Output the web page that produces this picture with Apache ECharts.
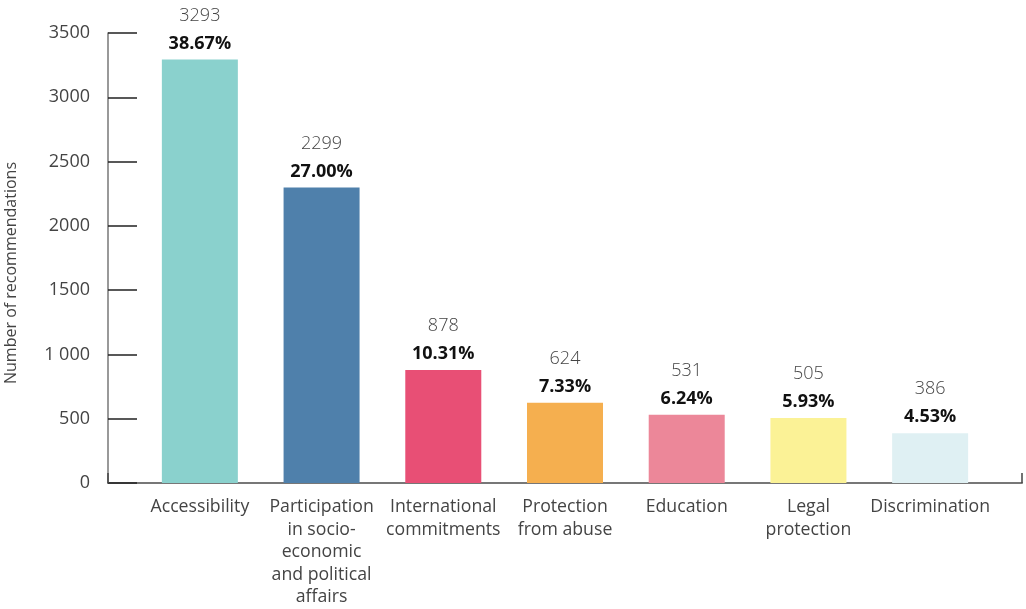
<!DOCTYPE html>
<html>
<head>
<meta charset="utf-8">
<script src="https://cdn.jsdelivr.net/npm/echarts@6/dist/echarts.min.js"></script>
<style>
  html, body { margin: 0; padding: 0; background: #fff; }
  #chart { width: 1026px; height: 609px; }
</style>
</head>
<body>
<div id="chart"></div>
<script>
// Recommendations by theme
const categories = [
  'Accessibility',
  'Participation\nin socio-\neconomic\nand political\naffairs',
  'International\ncommitments',
  'Protection\nfrom abuse',
  'Education',
  'Legal\nprotection',
  'Discrimination'
];
const counts = [3293, 2299, 878, 624, 531, 505, 386];
const shares = ['38.67%', '27.00%', '10.31%', '7.33%', '6.24%', '5.93%', '4.53%'];
const barColors = ['#8AD1CD', '#4F80AB', '#E84F75', '#F5AF4F', '#EC8799', '#FBF296', '#DFF0F3'];
const yTicks = [0, 500, 1000, 1500, 2000, 2500, 3000, 3500];

const FONT = '"Open Sans", "Noto Sans", sans-serif';

const chart = echarts.init(document.getElementById('chart'), null, { renderer: 'canvas' });

chart.setOption({
  animation: false,
  textStyle: { fontFamily: FONT },
  grid: [
    { left: 139, right: 35, top: 33, bottom: 126, outerBoundsMode: 'none', containLabel: false },
    { left: 108, right: 4, top: 33, bottom: 126, outerBoundsMode: 'none', containLabel: false }
  ],
  xAxis: [
    {
      type: 'category',
      gridIndex: 0,
      data: categories,
      axisLine: { show: false },
      axisTick: { show: false },
      axisLabel: {
        interval: 0,
        margin: 13,
        color: '#444',
        fontSize: 17.7,
        lineHeight: 22.5,
        fontFamily: FONT,
        align: 'center'
      }
    },
    {
      // full-width baseline with an end tick
      type: 'value',
      gridIndex: 1,
      min: 0,
      max: 1,
      interval: 1,
      axisLine: { show: true, lineStyle: { color: '#777', width: 2 } },
      axisTick: { show: true, inside: true, length: 10, lineStyle: { color: '#444', width: 1.5 } },
      axisLabel: { show: false },
      splitLine: { show: false }
    }
  ],
  yAxis: [
    {
      type: 'value',
      gridIndex: 0,
      min: yTicks[0],
      max: yTicks[yTicks.length - 1],
      interval: 500,
      offset: 31,
      name: 'Number of recommendations',
      nameLocation: 'middle',
      nameGap: 89,
      nameTextStyle: { color: '#444', fontSize: 16, fontFamily: FONT, padding: [0, 30, 0, 0] },
      axisLine: { show: true, lineStyle: { color: '#777', width: 1.5 } },
      axisTick: { show: true, inside: true, length: 29, lineStyle: { color: '#222', width: 1.5 } },
      axisLabel: {
        margin: 18,
        color: '#444',
        fontSize: 18,
        fontFamily: FONT,
        formatter: v => v === 1000 ? '1 000' : String(v)
      },
      splitLine: { show: false }
    },
    {
      type: 'value',
      gridIndex: 1,
      min: 0,
      max: 1,
      show: false
    }
  ],
  series: [
    {
      type: 'bar',
      xAxisIndex: 0,
      yAxisIndex: 0,
      barWidth: 76,
      data: counts.map((v, i) => ({ value: v, itemStyle: { color: barColors[i] } })),
      label: {
        show: true,
        position: 'top',
        distance: 2,
        formatter: p => '{v|' + counts[p.dataIndex] + '}\n{p|' + shares[p.dataIndex] + '}',
        rich: {
          v: { color: '#444', fontSize: 18, fontWeight: 300, lineHeight: 28, fontFamily: FONT, align: 'center' },
          p: { color: '#111', fontSize: 18, fontWeight: 'bold', lineHeight: 28, fontFamily: FONT, align: 'center' }
        }
      }
    }
  ]
});
</script>
</body>
</html>
